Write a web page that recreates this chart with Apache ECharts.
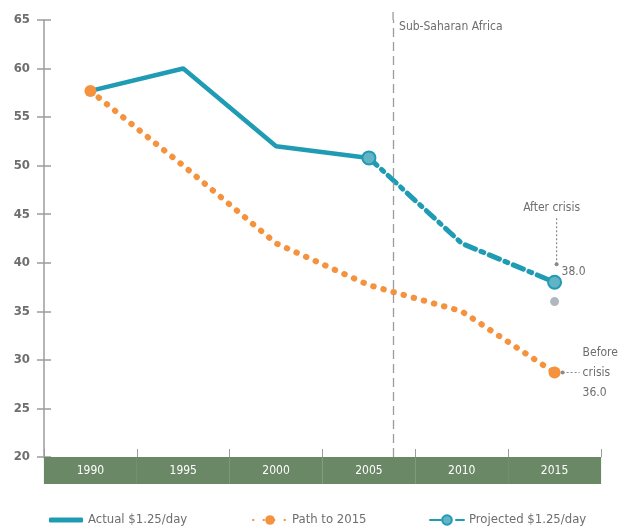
<!DOCTYPE html>
<html>
<head>
<meta charset="utf-8">
<script src="https://cdn.jsdelivr.net/npm/echarts@6/dist/echarts.min.js"></script>
<style>
  html, body { margin: 0; padding: 0; background: #ffffff; }
  #chart { width: 620px; height: 531px; }
</style>
</head>
<body>
<div id="chart"></div>
<script>
// Poverty headcount (%) at $1.25/day, Sub-Saharan Africa
const years = ['1990', '1995', '2000', '2005', '2010', '2015'];
const actual = [57.7, 60, 52, 50.8, null, null];
const pathTo2015 = [57.7, 50, 42, 37.7, 35, 28.7];
const projected = [null, null, null, 50.8, 42, 38.0];
const beforeCrisis2015 = 36.0;
const yMin = 20, yMax = 65, yStep = 5;
const dividerYear = 2006.3;
const regionName = 'Sub-Saharan Africa';
const seriesNames = ['Actual $1.25/day', 'Path to 2015', 'Projected $1.25/day'];

const FONT = "'Liberation Sans Narrow', 'DejaVu Sans Condensed', 'Roboto', sans-serif";
const TEAL = '#1f9cb3';
const TEAL_FILL = '#63b3c6';
const ORANGE = '#f5923e';
const GREEN = '#6a8766';
const AXIS = '#9c9c9c';
const TEXT = '#6e6e6e';

const chart = echarts.init(document.getElementById('chart'));

// only the end points of the path carry a marker
const pathData = pathTo2015.map((v, i) =>
  (i === 0 || i === pathTo2015.length - 1) ? v : { value: v, symbol: 'none' });
const projData = projected.map((v, i) =>
  (v !== null && i !== 4) ? v : { value: v, symbol: 'none' });

const legendBase = {
  top: 507,
  itemWidth: 34,
  itemHeight: 12,
  textStyle: { color: TEXT, fontSize: 13, fontFamily: FONT, lineHeight: 16 },
  selectedMode: false
};

chart.setOption({
  animation: false,
  textStyle: { fontFamily: FONT },
  grid: { left: 44, right: 19, top: 20, bottom: 74 },
  legend: [
    Object.assign({}, legendBase, {
      left: 44, itemHeight: 5,
      data: [{ name: seriesNames[0], icon: 'roundRect' }]
    }),
    Object.assign({}, legendBase, { left: 247, data: [seriesNames[1]] }),
    Object.assign({}, legendBase, { left: 424, data: [seriesNames[2]] })
  ],
  xAxis: [{
    type: 'category',
    data: years,
    boundaryGap: true,
    axisLine: { lineStyle: { color: AXIS, width: 1 } },
    axisTick: { show: true, inside: true, length: 8, interval: 0, lineStyle: { color: AXIS } },
    axisLabel: {
      interval: 0,
      margin: 0,
      color: '#ffffff',
      fontSize: 12,
      fontFamily: FONT,
      backgroundColor: GREEN,
      width: 93,
      height: 27,
      lineHeight: 27,
      align: 'center',
      verticalAlign: 'top'
    },
    splitLine: { show: false }
  }, {
    type: 'value',
    min: 1987.5,
    max: 2017.5,
    show: false
  }],
  yAxis: [{
    type: 'value',
    min: yMin, max: yMax, interval: yStep,
    axisLine: { show: true, lineStyle: { color: AXIS, width: 1.5 } },
    axisTick: { show: true, length: 7, lineStyle: { color: AXIS, width: 1.5 } },
    axisLabel: { color: TEXT, fontSize: 13, fontWeight: 'bold', margin: 14, fontFamily: FONT },
    splitLine: { show: false }
  }, {
    type: 'value',
    position: 'left',
    min: yMin, max: yMax, interval: yStep,
    axisLine: { show: false },
    axisTick: { show: true, inside: true, length: 7, lineStyle: { color: AXIS, width: 1.5 } },
    axisLabel: { show: false },
    splitLine: { show: false }
  }],
  series: [{
    name: 'divider',
    type: 'line',
    xAxisIndex: 1,
    yAxisIndex: 0,
    data: [],
    markLine: {
      silent: true,
      symbol: 'none',
      label: { show: false },
      lineStyle: { color: '#a09a98', type: [9, 5], width: 1.3 },
      data: [{ xAxis: dividerYear }]
    }
  }, {
    name: seriesNames[0],
    type: 'line',
    data: actual,
    symbol: 'none',
    lineStyle: { color: TEAL, width: 4.5 },
    itemStyle: { color: TEAL },
    z: 2
  }, {
    name: seriesNames[2],
    type: 'line',
    data: projData,
    symbol: 'circle',
    symbolSize: 13,
    showAllSymbol: true,
    lineStyle: { color: TEAL, width: 5, type: [11, 6, 3, 6], cap: 'round' },
    itemStyle: { color: TEAL_FILL, borderColor: TEAL, borderWidth: 2 },
    z: 3
  }, {
    name: seriesNames[1],
    type: 'line',
    data: pathData,
    symbol: 'circle',
    symbolSize: 12,
    showAllSymbol: true,
    lineStyle: { color: ORANGE, width: 6, type: [0.5, 10], cap: 'round' },
    itemStyle: { color: ORANGE },
    z: 4
  }, {
    name: 'before crisis',
    type: 'scatter',
    data: [[years[5], beforeCrisis2015]],
    symbol: 'circle',
    symbolSize: 9,
    itemStyle: { color: '#9aa6ae' },
    z: 3
  }]
});

// annotations placed from the axis scales
function px(year, value) {
  return chart.convertToPixel({ xAxisIndex: 1, yAxisIndex: 0 }, [year, value]);
}
const lastYear = Number(years[years.length - 1]);
const divTop = px(dividerYear, yMax);
const pAfter = px(lastYear, projected[5]);
const pPath = px(lastYear, pathTo2015[5]);
const annoText = { fill: TEXT, fontSize: 12, fontFamily: FONT };
const arrowStyle = { stroke: '#8a8a8a', lineWidth: 1.2, lineDash: [2, 2] };

chart.setOption({
  graphic: [
    { type: 'line', shape: { x1: divTop[0], y1: divTop[1] - 8, x2: divTop[0], y2: divTop[1] },
      style: { stroke: '#a09a98', lineWidth: 1.3 } },
    { type: 'text', x: divTop[0] + 6, y: divTop[1] + 1,
      style: Object.assign({ text: regionName, textVerticalAlign: 'top' }, annoText) },

    { type: 'text', x: pAfter[0] - 3, y: pAfter[1] - 74,
      style: Object.assign({ text: 'After crisis', textAlign: 'center', textVerticalAlign: 'middle' }, annoText) },
    { type: 'line', shape: { x1: pAfter[0] + 2, y1: pAfter[1] - 64, x2: pAfter[0] + 2, y2: pAfter[1] - 19 },
      style: arrowStyle },
    { type: 'circle', shape: { cx: pAfter[0] + 2, cy: pAfter[1] - 18, r: 2 }, style: { fill: '#8a8a8a' } },
    { type: 'text', x: pAfter[0] + 7, y: pAfter[1] - 10,
      style: Object.assign({ text: projected[5].toFixed(1), textVerticalAlign: 'middle' }, annoText) },

    { type: 'line', shape: { x1: pPath[0] + 8, y1: pPath[1], x2: pPath[0] + 25, y2: pPath[1] },
      style: arrowStyle },
    { type: 'circle', shape: { cx: pPath[0] + 8, cy: pPath[1], r: 2 }, style: { fill: '#8a8a8a' } },
    { type: 'text', x: pPath[0] + 28, y: pPath[1],
      style: Object.assign({
        text: 'Before\ncrisis\n' + beforeCrisis2015.toFixed(1),
        textVerticalAlign: 'middle', lineHeight: 20
      }, annoText) }
  ]
});
</script>
</body>
</html>
